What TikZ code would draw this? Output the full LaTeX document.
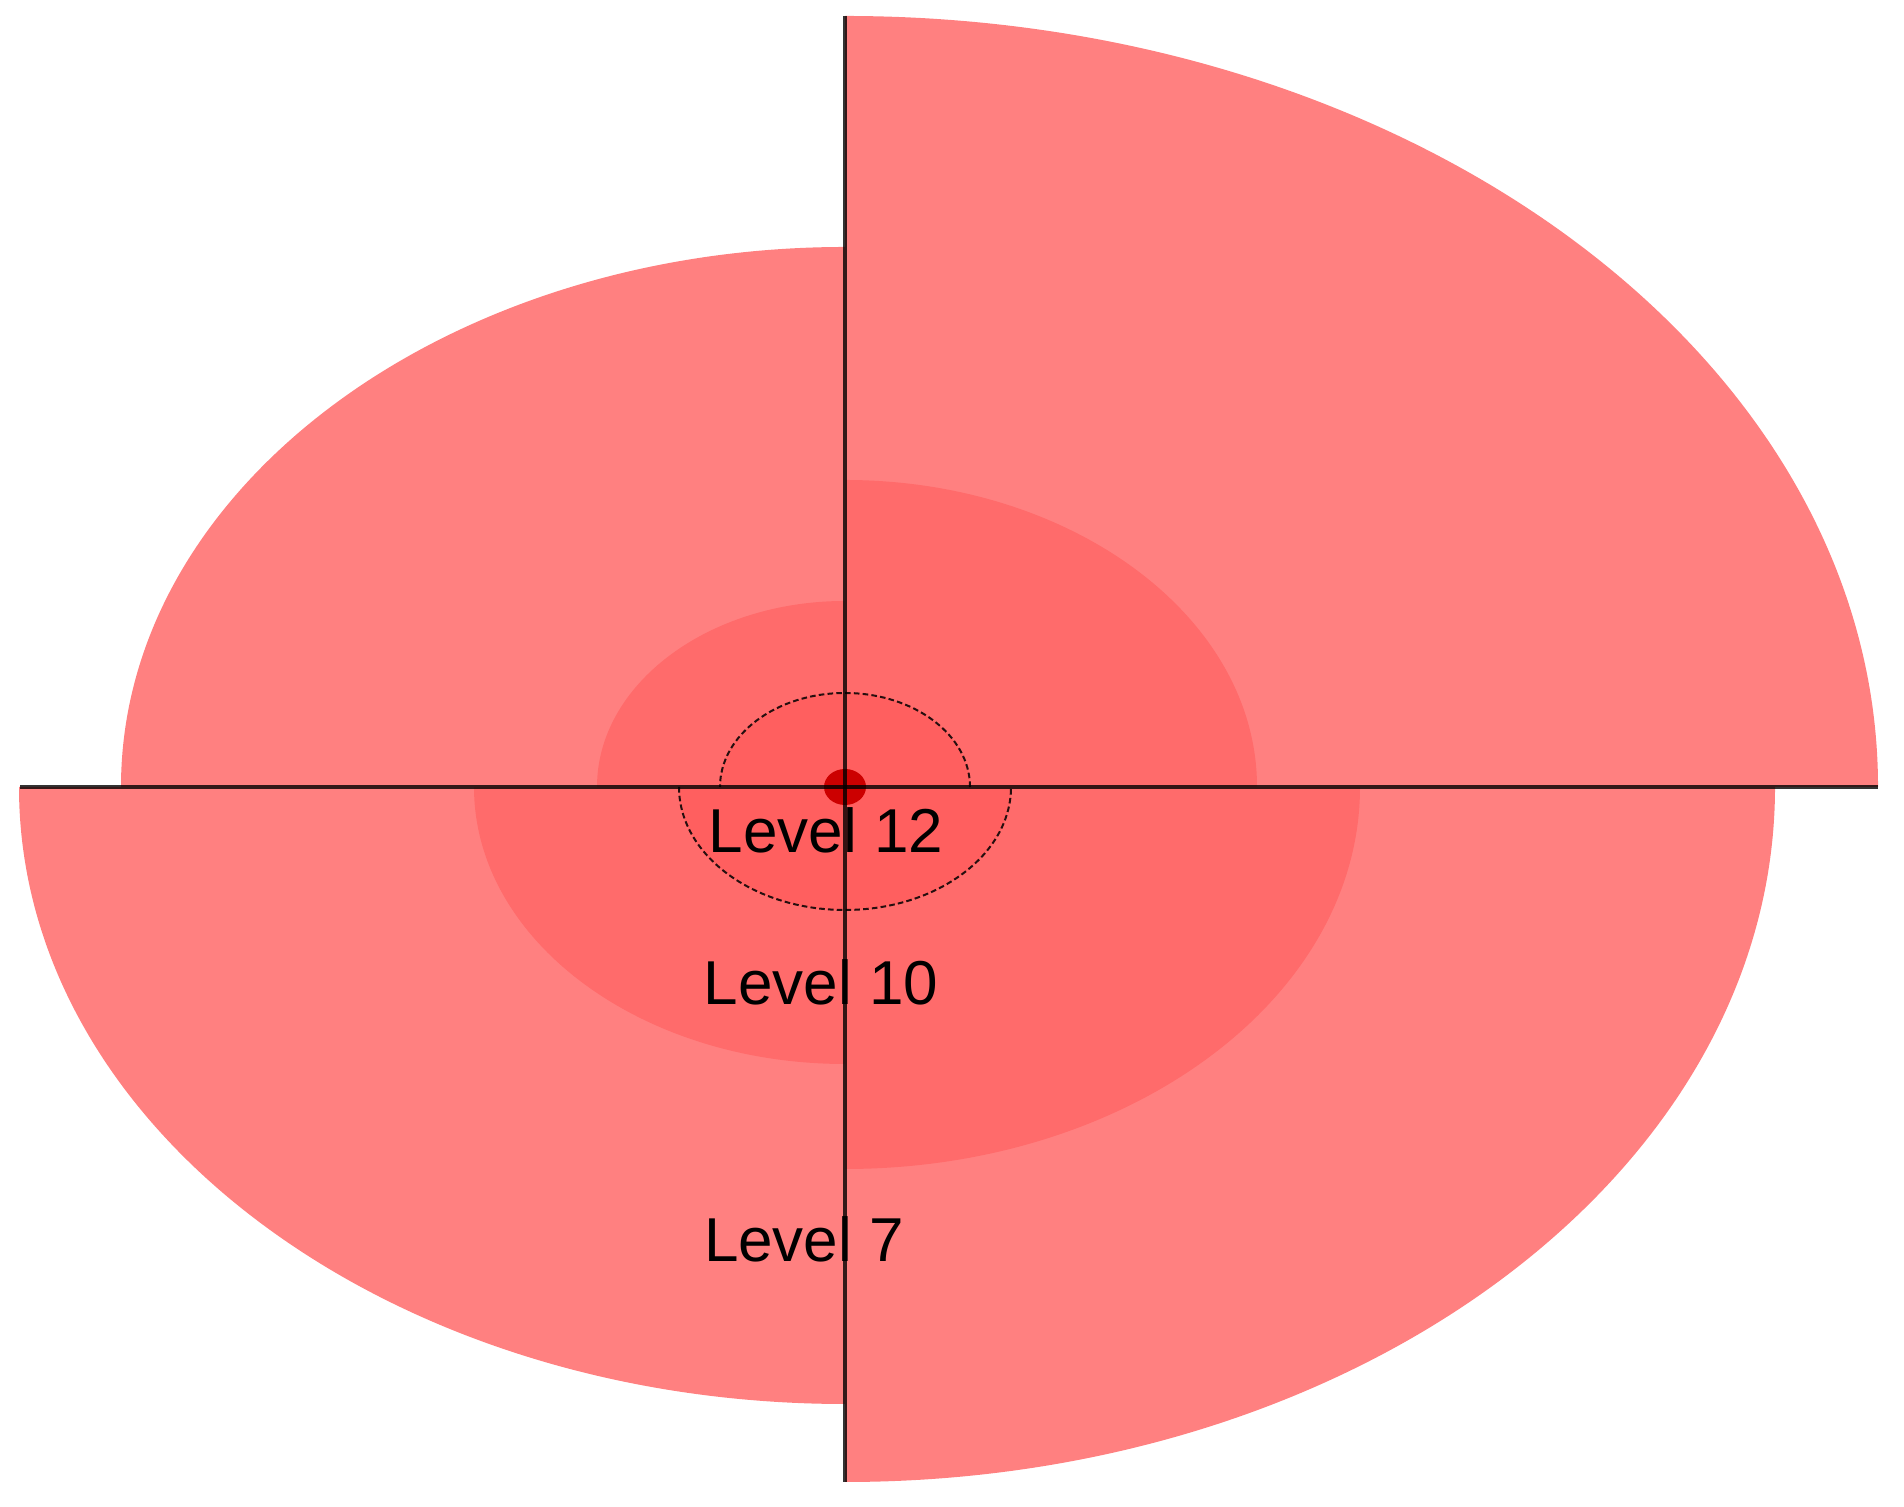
\documentclass[tikz,border=0pt]{standalone}
\usepackage{fontspec}
\setmainfont{Liberation Sans}
\definecolor{outerred}{HTML}{FF8080}
\definecolor{midred}{HTML}{FF6B6B}
\definecolor{innerred}{HTML}{FF5F5F}
\definecolor{dotred}{HTML}{CC0000}
\begin{document}
\begin{tikzpicture}[x=0.5pt,y=0.5pt,
  axisline/.style={draw=black,opacity=0.8,line width=1.7pt},
  dashring/.style={draw=black,opacity=0.85,line width=1pt,dash pattern=on 2.8pt off 1.6pt},
  lvltext/.style={font=\fontsize{31}{37}\selectfont,inner sep=0pt,text=black}]
\fill[white] (0,0) rectangle (1904,1507);
\coordinate (c) at (845,720);
% outer ring (level 7)
\fill[outerred] (c) -- ++(1033,0) arc[start angle=0,end angle=90,x radius=1033,y radius=771] -- cycle;
\fill[outerred] (c) -- ++(0,540) arc[start angle=90,end angle=180,x radius=724,y radius=540] -- cycle;
\fill[outerred] (c) -- ++(-826,0) arc[start angle=180,end angle=270,x radius=826,y radius=617] -- cycle;
\fill[outerred] (c) -- ++(0,-695) arc[start angle=270,end angle=360,x radius=930,y radius=695] -- cycle;
% middle ring (level 10)
\fill[midred] (c) -- ++(412,0) arc[start angle=0,end angle=90,x radius=412,y radius=307] -- cycle;
\fill[midred] (c) -- ++(0,186) arc[start angle=90,end angle=180,x radius=248,y radius=186] -- cycle;
\fill[midred] (c) -- ++(-371,0) arc[start angle=180,end angle=270,x radius=371,y radius=277] -- cycle;
\fill[midred] (c) -- ++(0,-382) arc[start angle=270,end angle=360,x radius=515,y radius=382] -- cycle;
% inner ring (level 12)
\fill[innerred] (c) ++(125,0) arc[start angle=0,end angle=180,x radius=125,y radius=94] -- cycle;
\fill[innerred] (c) ++(-166,0) arc[start angle=180,end angle=360,x radius=166,y radius=123] -- cycle;
\draw[dashring] (c) ++(125,0) arc[start angle=0,end angle=180,x radius=125,y radius=94];
\draw[dashring] (c) ++(-166,0) arc[start angle=180,end angle=360,x radius=166,y radius=123];
% centre dot
\fill[dotred] (c) ellipse[x radius=21,y radius=18];
% axes
\coordinate (west) at (20,720);
\coordinate (east) at (1878,720);
\coordinate (north) at (845,1491);
\coordinate (south) at (845,25);
\draw[axisline] (west) -- (east);
\draw[axisline] (north) -- (south);
% labels
\node[lvltext] (l12) at (826,677) {Level 12};
\node[lvltext] (l10) at (821,525) {Level 10};
\node[lvltext] (l7) at (804,268) {Level 7};
\end{tikzpicture}
\end{document}
